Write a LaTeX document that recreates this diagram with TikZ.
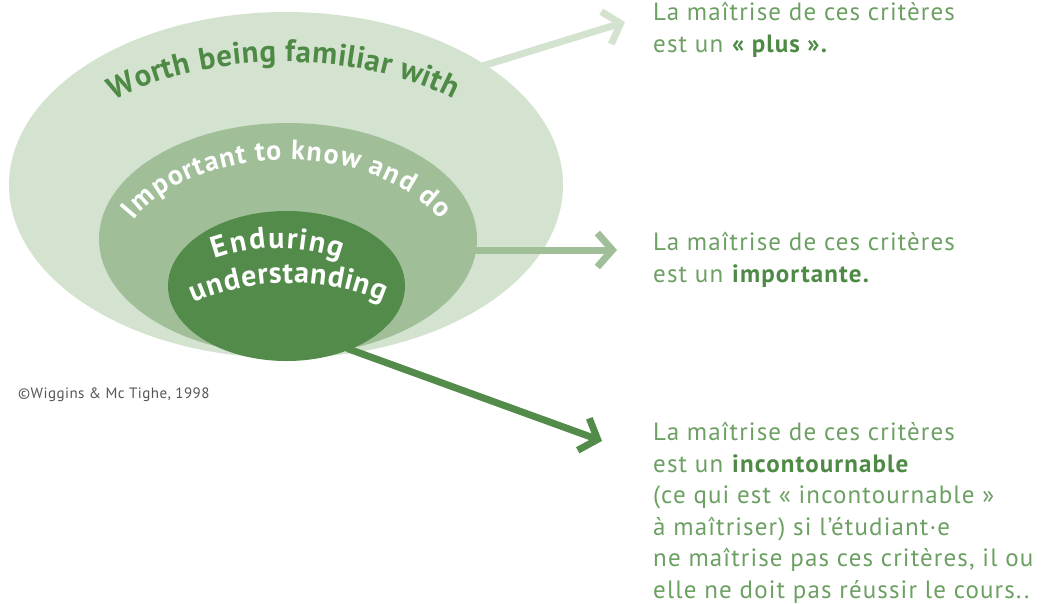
\documentclass[tikz,border=0pt]{standalone}
\usepackage{fontspec}
\setmainfont{PT Sans}
\usetikzlibrary{shapes.geometric,arrows.meta,decorations.text}
\definecolor{paleGreen}{HTML}{D4E3D0}
\definecolor{midGreen}{HTML}{A0BF98}
\definecolor{deepGreen}{HTML}{538C4A}
\definecolor{textGreen}{HTML}{6C9F62}
\definecolor{boldGreen}{HTML}{4E8A45}
\definecolor{copyGray}{HTML}{555555}
\tikzset{
  zone/.style={ellipse, inner sep=0pt},
  levelarrow/.style={line width=7pt, shorten <=-3pt, -{Straight Barb[length=15pt,width=34pt]}},
  criterion/.style={anchor=base west, inner sep=0pt, align=left, text=textGreen,
    font=\fontsize{25}{31.5}\selectfont\addfontfeatures{LetterSpace=4.5}},
  arctext/.style 2 args={decorate, font=#2, decoration={text effects along path, text={#1},
    text effects/.cd, text along path, fit text to path,
    characters={anchor=base, inner sep=0pt, font=#2}}}
}
\newcommand{\keyword}[1]{\textbf{\color{boldGreen}#1}}

\begin{document}
\begin{tikzpicture}[x=1pt,y=1pt]
  \useasboundingbox (0,0) rectangle (1043,-603);

  %%ellipses
  \node[zone, fill=paleGreen, minimum width=554pt, minimum height=346pt] (outer) at (286,-185) {};
  \node[zone, fill=midGreen, minimum width=378pt, minimum height=232pt] (middle) at (288,-239) {};
  \node[zone, fill=deepGreen, minimum width=237pt, minimum height=150pt] (inner) at (286.5,-286) {};

  %%arced labels
  \path[arctext={Worth being familiar with}{\fontsize{31}{31}\bfseries\color{boldGreen}}]
    (285,-200) ++(134:247 and 138) arc[start angle=134, end angle=47, x radius=247, y radius=138];
  \path[arctext={Important to know and do}{\fontsize{28}{28}\bfseries\color{white}}]
    (287,-270) ++(153:172 and 110) arc[start angle=153, end angle=27, x radius=172, y radius=110];
  \path[arctext={Enduring}{\fontsize{30}{30}\bfseries\color{white}}]
    (278,-420) ++(110.5:180 and 172) arc[start angle=110.5, end angle=69.5, x radius=180, y radius=172];
  \path[arctext={understanding}{\fontsize{30}{30}\bfseries\color{white}}]
    (289,-420) ++(121:185 and 137) arc[start angle=121, end angle=59.5, x radius=185, y radius=137];

  %%texts (anchored on the last line)
  \node[criterion] (plusText) at (653,-52) {La maîtrise de ces critères\\est un \keyword{« plus ».}};
  \node[criterion] (importantText) at (653,-282) {La maîtrise de ces critères\\est un \keyword{importante.}};
  \node[criterion] (incontText) at (653,-598) {La maîtrise de ces critères\\est un \keyword{incontournable}\\(ce qui est « incontournable »\\à maîtriser) si l’étudiant·e\\ne maîtrise pas ces critères, il ou\\elle ne doit pas réussir le cours..};
  \node[anchor=base west, inner sep=0pt, text=copyGray, font=\fontsize{15}{15}\selectfont\addfontfeatures{LetterSpace=3}] (source) at (18,-398) {©Wiggins \& Mc Tighe, 1998};

  %%arrows
  \coordinate (plusTip) at (625,-22);
  \coordinate (importantTip) at (617,-250);
  \coordinate (incontTip) at (602,-441);
  \draw[levelarrow, paleGreen] (outer.31) -- (plusTip);
  \draw[levelarrow, midGreen] (middle.east |- importantTip) -- (importantTip);
  \draw[levelarrow, deepGreen] (inner.-45) -- (incontTip);
\end{tikzpicture}
\end{document}
